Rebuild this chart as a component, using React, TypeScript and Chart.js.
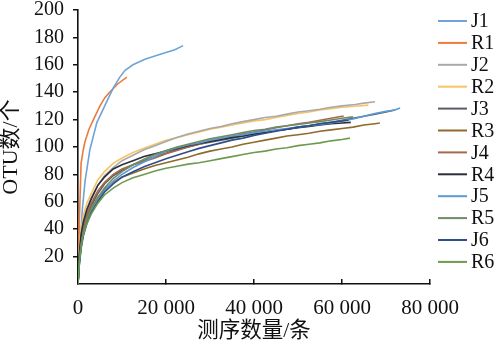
import { useEffect, useRef } from 'react';
import { Chart, registerables } from 'chart.js';

Chart.register(...registerables);

const FONT = "'Liberation Serif', 'Noto Sans CJK SC', serif";

const NAMES = ['J1', 'R1', 'J2', 'R2', 'J3', 'R3', 'J4', 'R4', 'J5', 'R5', 'J6', 'R6'];
const COLORS = ['#6ea4d8', '#ec7b3a', '#a9a9a9', '#f5c467', '#585d66', '#8f6a2a', '#a8694a', '#2a2f3a', '#5a9ad6', '#6f8c62', '#2e4d8c', '#6e9a4e'];

const X_TICKS = [0, 20000, 40000, 60000, 80000];
const Y_TICKS = [20, 40, 60, 80, 100, 120, 140, 160, 180, 200];

const J1_X = [0, 500, 1000, 1600, 2700, 4300, 5200, 6500, 8000, 9500, 10700, 12500, 15200, 18000, 20000, 22000, 23900];
const J1_Y = [0, 30, 55, 75, 98, 118, 124, 133, 143, 151, 156, 160, 164, 167, 169, 171, 174];
const R1_X = [0, 300, 700, 1200, 1600, 2500, 3800, 5000, 6100, 7500, 9000, 11100];
const R1_Y = [0, 45, 88, 98, 104, 113, 122, 130, 136, 141, 146, 151];

const X_GRID = [0, 300, 700, 1200, 2000, 3000, 4500, 6000, 8000, 10000, 12500, 15000, 17500, 20000, 22500, 25000, 27500, 30000, 32500, 35000, 37500, 40000, 42500, 45000, 47500, 50000, 52500, 55000, 57500, 60000];

const J2_Y = [0, 22, 36, 46, 55, 63, 72, 79, 85, 90, 94, 98, 101, 104, 107, 109.5, 111.5, 113.5, 115, 117, 118.5, 120, 121.5, 122.5, 124, 125.5, 126.5, 127.5, 129, 130];
const J2_TX = [63000, 65000, 67500];
const J2_TY = [131, 132, 133];

const R2_Y = [0, 25, 40, 50, 59, 66, 76, 82, 88, 92, 96, 99, 102, 105, 107, 109, 111, 113, 114.5, 116, 117.5, 119, 120, 121.5, 123, 124.5, 125.5, 127, 128, 129];
const R2_TX = [63000, 66000];
const R2_TY = [129.8, 130.6];

const J3_Y = [0, 18, 31, 40, 49, 57, 66, 73, 79, 83, 87, 90, 93, 95.5, 98, 100, 102, 103.5, 105, 106.5, 108, 109.5, 110.5, 112, 113, 114.5, 115.5, 117, 118, 119.5];
const J3_TX = [62500, 65000, 67500, 70000, 72000];
const J3_TY = [121, 122.5, 124, 125.5, 127];

const R3_Y = [0, 17, 30, 39, 48, 55, 63, 69, 74, 78, 81, 84, 86.5, 88.5, 90.5, 92.5, 95, 97, 98.5, 100, 102, 103.5, 105, 106.5, 108, 109, 110, 111.5, 112.5, 113.5];
const R3_TX = [62500, 65000, 67500, 68600];
const R3_TY = [114.5, 116, 117, 117.5];

const J4_Y = [0, 20, 33, 42, 51, 59, 68, 74, 80, 84, 87, 89.5, 92, 95, 97.5, 100, 102, 104, 106, 107.5, 109.5, 111, 112.5, 114, 115.5, 117, 118, 119.5, 121, 122.5];
const J4_TX = [60200];
const J4_TY = [123];

const R4_Y = [0, 22, 36, 45, 54, 62, 72, 78, 84, 87, 90, 93, 95, 97, 99, 101, 102.5, 104, 105.5, 107, 108, 109.5, 110.5, 112, 113, 114, 115, 116, 117, 117.5];
const R4_TX = [62000];
const R4_TY = [118];

const J5_Y = [0, 15, 27, 36, 45, 53, 61, 68, 75, 80, 85, 89, 93, 97, 99.5, 101.5, 103, 105, 106.5, 108, 109, 110.5, 111.5, 112.5, 113.5, 114.5, 115.5, 116.5, 117.5, 119];
const J5_TX = [62500, 65000, 67500, 70000, 72000, 73200];
const J5_TY = [120.5, 122.5, 124.5, 126, 127, 128.5];

const R5_Y = [0, 16, 29, 38, 47, 55, 63, 70, 77, 82, 87, 91, 94.5, 97.5, 100, 102, 104, 106, 107.5, 109, 110.5, 112, 113, 114.5, 115.5, 116.5, 117.5, 118.5, 119.7, 121];
const R5_TX = [62500];
const R5_TY = [122];

const J6_Y = [0, 14, 26, 35, 44, 52, 60, 67, 73, 78, 82, 85.5, 88.5, 91.5, 94, 96.5, 99, 101, 103, 105, 106.5, 108.5, 110, 111.5, 113, 114.5, 115.5, 117, 118, 119];
const J6_TX = [61500];
const J6_TY = [119.5];

const R6_Y = [0, 15, 27, 36, 44, 51, 59, 65, 70, 74, 77.5, 80, 82.5, 84.5, 86, 87.5, 88.5, 90, 91.5, 93, 94.5, 96, 97, 98.5, 99.5, 101, 102, 103, 104.5, 105.5];
const R6_TX = [61800];
const R6_TY = [106.5];

function pts(xs: number[], ys: number[]) {
  return xs.map((x, i) => ({ x, y: ys[i] }));
}
function gridPts(ys: number[], tx: number[], ty: number[]) {
  return pts(X_GRID, ys).concat(pts(tx, ty));
}

const SERIES_DATA = [
  pts(J1_X, J1_Y),
  pts(R1_X, R1_Y),
  gridPts(J2_Y, J2_TX, J2_TY),
  gridPts(R2_Y, R2_TX, R2_TY),
  gridPts(J3_Y, J3_TX, J3_TY),
  gridPts(R3_Y, R3_TX, R3_TY),
  gridPts(J4_Y, J4_TX, J4_TY),
  gridPts(R4_Y, R4_TX, R4_TY),
  gridPts(J5_Y, J5_TX, J5_TY),
  gridPts(R5_Y, R5_TX, R5_TY),
  gridPts(J6_Y, J6_TX, J6_TY),
  gridPts(R6_Y, R6_TX, R6_TY),
];

const DRAW_ORDER = [11, 10, 9, 8, 7, 6, 5, 4, 2, 3, 0, 1];

function fmt(v: number) {
  if (v === 0) return '0';
  const s = String(Math.round(v));
  return s.replace(/\B(?=(\d{3})+(?!\d))/g, ' ');
}

const legendPlugin = {
  id: 'customLegend',
  afterDraw(chart: any) {
    const ctx = chart.ctx;
    ctx.save();
    ctx.font = `20px ${FONT}`;
    ctx.textBaseline = 'middle';
    ctx.textAlign = 'left';
    NAMES.forEach((name, i) => {
      const y = 21 + i * 21.9;
      ctx.strokeStyle = COLORS[i];
      ctx.lineWidth = 2;
      ctx.beginPath();
      ctx.moveTo(438, y);
      ctx.lineTo(467, y);
      ctx.stroke();
      ctx.fillStyle = '#111';
      ctx.fillText(name, 471, y + 1);
    });
    ctx.restore();
  },
};

export default function App() {
  const ref = useRef<HTMLCanvasElement | null>(null);
  useEffect(() => {
    if (!ref.current) return;
    const datasets = DRAW_ORDER.map((i) => ({
      label: NAMES[i],
      data: SERIES_DATA[i],
      borderColor: COLORS[i],
      backgroundColor: COLORS[i],
      borderWidth: 1.6,
      pointRadius: 0,
      tension: 0,
      fill: false,
    }));
    const chart = new Chart(ref.current, {
      type: 'line',
      data: { datasets },
      options: {
        responsive: false,
        animation: false,
        devicePixelRatio: 1,
        layout: { padding: { left: 0, top: 10, right: 68, bottom: 0 } },
        plugins: { legend: { display: false }, tooltip: { enabled: false } },
        scales: {
          x: {
            type: 'linear',
            min: 0,
            max: 80000,
            afterBuildTicks: (s: any) => {
              s.ticks = X_TICKS.map((v) => ({ value: v }));
            },
            afterFit: (s: any) => {
              s.height = 68;
              s.paddingLeft = 0;
              s.paddingRight = 0;
            },
            ticks: {
              autoSkip: false,
              maxRotation: 0,
              color: '#111',
              font: { family: FONT, size: 21 },
              padding: 17,
              callback: (v: any) => fmt(Number(v)),
            },
            grid: {
              drawOnChartArea: false,
              drawTicks: true,
              tickLength: -5,
              color: (c: any) => (c.tick && c.tick.value === 0 ? 'rgba(0,0,0,0)' : '#111'),
              lineWidth: 1.5,
            },
            border: { display: true, color: '#111', width: 1.6 },
            title: {
              display: true,
              text: '测序数量/条',
              color: '#111',
              font: { family: FONT, size: 21.5 },
              padding: { top: 0, bottom: 8 },
            },
          },
          y: {
            type: 'linear',
            min: 0,
            max: 200,
            afterBuildTicks: (s: any) => {
              s.ticks = Y_TICKS.map((v) => ({ value: v }));
            },
            afterFit: (s: any) => {
              s.width = 78;
              s.paddingTop = 0;
              s.paddingBottom = 0;
            },
            ticks: {
              color: '#111',
              font: { family: FONT, size: 20 },
              padding: 9,
            },
            grid: {
              drawOnChartArea: false,
              drawTicks: true,
              tickLength: 5,
              color: '#111',
              lineWidth: 1.5,
            },
            border: { display: true, color: '#111', width: 1.6 },
            title: {
              display: true,
              text: 'OTU数/个',
              color: '#111',
              font: { family: FONT, size: 22, lineHeight: 1.0 },
              padding: { top: 0, bottom: 0 },
            },
          },
        },
      },
      plugins: [legendPlugin],
    } as any);
    return () => chart.destroy();
  }, []);
  return (
    <div style={{ position: 'absolute', left: 0, top: 0, width: 498, height: 352, background: '#fff' }}>
      <canvas ref={ref} width={498} height={352} style={{ width: 498, height: 352, display: 'block' }} />
    </div>
  );
}
